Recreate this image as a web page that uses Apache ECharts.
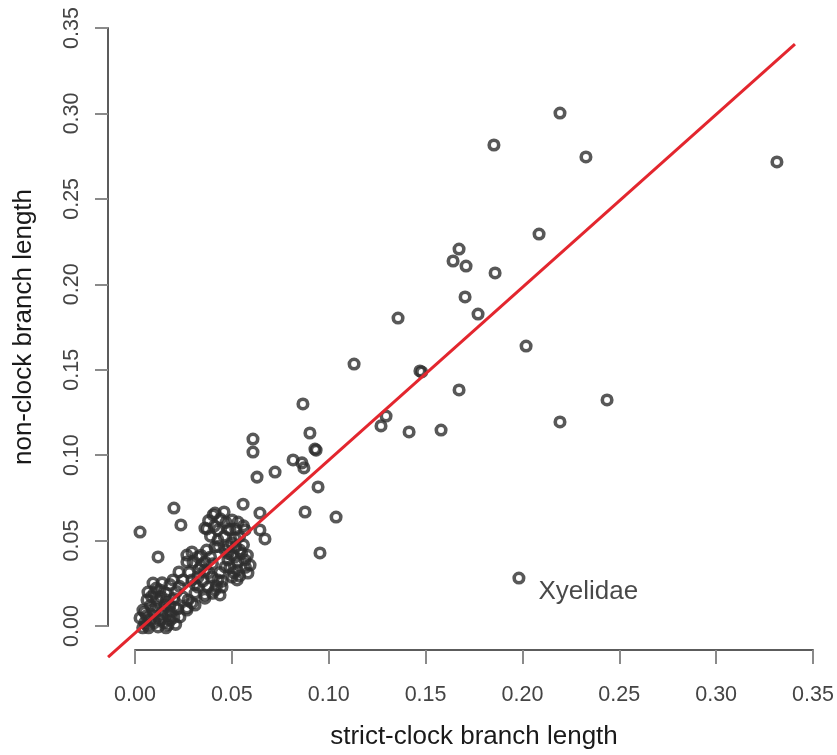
<!DOCTYPE html>
<html>
<head>
<meta charset="utf-8">
<title>Branch length comparison</title>
<script src="https://cdn.jsdelivr.net/npm/echarts@6/dist/echarts.min.js"></script>
<style>
  html, body { margin: 0; padding: 0; background: #ffffff; }
  #chart { width: 837px; height: 755px; }
</style>
</head>
<body>
<div id="chart"></div>
<script>
// Tick values shared by both axes
const tickValues = [0.00, 0.05, 0.10, 0.15, 0.20, 0.25, 0.30, 0.35];

// Branch lengths: [strict-clock, non-clock]
const sparseBranches = [
  [0.2194, 0.3008], [0.1853, 0.2823], [0.2328, 0.2754], [0.3314, 0.2725],
  [0.2086, 0.2308], [0.1673, 0.2221], [0.1642, 0.2152], [0.1709, 0.2123],
  [0.1859, 0.2083], [0.1704, 0.1944], [0.1771, 0.1845], [0.1358, 0.1822],
  [0.2019, 0.1660], [0.1131, 0.1556], [0.1471, 0.1516], [0.1480, 0.1510],
  [0.1673, 0.1406], [0.2437, 0.1348], [0.1296, 0.1255], [0.1270, 0.1198],
  [0.1415, 0.1163], [0.1580, 0.1174], [0.2194, 0.1221]
];

const midBranches = [
  [0.0609, 0.1122], [0.0609, 0.1047], [0.0867, 0.1325], [0.0903, 0.1157],
  [0.0929, 0.1064], [0.0935, 0.1058], [0.0816, 0.1001], [0.0872, 0.0955],
  [0.0862, 0.0984], [0.0630, 0.0902], [0.0723, 0.0931], [0.0945, 0.0845],
  [0.0878, 0.0700], [0.1038, 0.0671], [0.0645, 0.0694], [0.0671, 0.0544],
  [0.0955, 0.0463], [0.0558, 0.0745]
];

const denseBranches = [
  [0.0413, 0.0694], [0.0501, 0.0654], [0.0532, 0.0642], [0.0361, 0.0607],
  [0.0428, 0.0596], [0.0490, 0.0596], [0.0568, 0.0596], [0.0645, 0.0596],
  [0.0428, 0.0538], [0.0516, 0.0550], [0.0413, 0.0498], [0.0465, 0.0480],
  [0.0294, 0.0469], [0.0542, 0.0480], [0.0325, 0.0440], [0.0361, 0.0411],
  [0.0268, 0.0411], [0.0516, 0.0440], [0.0568, 0.0422], [0.0594, 0.0393],
  [0.0527, 0.0364], [0.0583, 0.0347], [0.0501, 0.0324], [0.0527, 0.0307],
  [0.0361, 0.0364], [0.0325, 0.0324], [0.0398, 0.0324], [0.0428, 0.0307],
  [0.0449, 0.0266], [0.0377, 0.0266], [0.0325, 0.0266], [0.0294, 0.0307],
  [0.0310, 0.0231], [0.0361, 0.0220], [0.0413, 0.0249], [0.0439, 0.0220],
  [0.0294, 0.0174], [0.0268, 0.0145], [0.0310, 0.0162], [0.0361, 0.0202],
  [0.0480, 0.0422], [0.0465, 0.0382],
  [0.0201, 0.0723], [0.0237, 0.0625], [0.0026, 0.0584], [0.0119, 0.0440],
  [0.0268, 0.0451], [0.0227, 0.0353], [0.0196, 0.0307], [0.0248, 0.0307],
  [0.0093, 0.0289], [0.0067, 0.0237], [0.0129, 0.0249], [0.0062, 0.0191],
  [0.0114, 0.0191], [0.0165, 0.0191], [0.0041, 0.0133], [0.0093, 0.0133],
  [0.0145, 0.0133], [0.0207, 0.0150], [0.0248, 0.0208], [0.0026, 0.0087],
  [0.0077, 0.0075], [0.0129, 0.0075], [0.0181, 0.0075], [0.0232, 0.0093],
  [0.0119, 0.0035], [0.0062, 0.0046], [0.0170, 0.0046], [0.0268, 0.0133],
  [0.0274, 0.0191], [0.0403, 0.0683], [0.0372, 0.0602],
  [0.0155, 0.0160], [0.0185, 0.0120], [0.0100, 0.0100], [0.0050, 0.0060],
  [0.0215, 0.0240], [0.0440, 0.0350], [0.0480, 0.0500], [0.0500, 0.0450],
  [0.0560, 0.0510], [0.0390, 0.0440], [0.0340, 0.0390], [0.0560, 0.0620],
  [0.0470, 0.0640], [0.0080, 0.0160], [0.0150, 0.0060], [0.0210, 0.0050],
  [0.0040, 0.0030],
  [0.0050, 0.0120], [0.0085, 0.0210], [0.0110, 0.0260], [0.0135, 0.0210],
  [0.0160, 0.0230], [0.0180, 0.0160], [0.0200, 0.0200], [0.0220, 0.0140],
  [0.0110, 0.0150], [0.0060, 0.0100], [0.0140, 0.0100], [0.0170, 0.0100],
  [0.0200, 0.0090], [0.0100, 0.0060], [0.0070, 0.0030], [0.0160, 0.0030],
  [0.0230, 0.0270], [0.0180, 0.0280], [0.0140, 0.0290], [0.0100, 0.0230],
  [0.0300, 0.0410], [0.0330, 0.0370], [0.0350, 0.0300], [0.0380, 0.0350],
  [0.0400, 0.0400], [0.0420, 0.0270], [0.0340, 0.0450], [0.0370, 0.0480],
  [0.0310, 0.0280], [0.0400, 0.0230], [0.0450, 0.0300], [0.0280, 0.0350],
  [0.0390, 0.0560], [0.0410, 0.0620], [0.0440, 0.0660], [0.0460, 0.0560],
  [0.0480, 0.0600], [0.0520, 0.0600], [0.0540, 0.0560], [0.0460, 0.0700],
  [0.0430, 0.0500], [0.0500, 0.0520], [0.0380, 0.0650], [0.0520, 0.0500],
  [0.0490, 0.0380], [0.0530, 0.0410], [0.0550, 0.0460], [0.0580, 0.0450],
  [0.0510, 0.0350], [0.0570, 0.0380], [0.0540, 0.0330], [0.0480, 0.0460]
];

// Labelled outlier
const labelledBranches = [
  { name: 'Xyelidae', value: [0.1982, 0.0318] }
];

// Reference line y = x, drawn between these strict-clock lengths
const identityRange = [-0.0139, 0.3407];

// Full plotting region (slightly wider than the tick range on both axes)
const plotRangeX = [-0.01394, 0.36241];
const plotRangeY = [-0.01388, 0.36387];

const allBranches = sparseBranches.concat(midBranches, denseBranches);
const identityLine = identityRange.map(v => [v, v]);

const fontFamily = '"Liberation Sans", Arial, Helvetica, sans-serif';
const axisLineStyle = { color: '#5c5c5c', width: 2 };
const tickStyle = { color: '#8a8a8a', width: 2 };
const hiddenAxis = {
  show: false, splitLine: { show: false }, axisLine: { show: false },
  axisTick: { show: false }, axisLabel: { show: false }
};

const chart = echarts.init(document.getElementById('chart'), null, { renderer: 'canvas' });

const pointStyle = {
  type: 'scatter',
  xAxisIndex: 0,
  yAxisIndex: 0,
  symbol: 'circle',
  symbolSize: 9.5,
  itemStyle: { color: 'rgba(255,255,255,0)', borderColor: '#2e2e2e', borderWidth: 3.6 },
  silent: true
};

chart.setOption({
  backgroundColor: '#ffffff',
  animation: false,
  grid: [
    // plotting region
    { left: 108, right: 0, top: 4, bottom: 98, containLabel: false },
    // axes drawn over the tick range only
    { left: 135, right: 24, top: 28, bottom: 122, containLabel: false }
  ],
  xAxis: [
    Object.assign({ type: 'value', gridIndex: 0, min: plotRangeX[0], max: plotRangeX[1] }, hiddenAxis),
    {
      type: 'value',
      gridIndex: 1,
      min: tickValues[0],
      max: tickValues[tickValues.length - 1],
      interval: 0.05,
      offset: 24,
      splitLine: { show: false },
      axisLine: { show: true, onZero: false, lineStyle: axisLineStyle },
      axisTick: { show: true, length: 14, lineStyle: tickStyle },
      axisLabel: {
        show: true, margin: 34, fontSize: 21.5, color: '#444444', fontFamily: fontFamily,
        showMinLabel: true, showMaxLabel: true,
        formatter: v => v.toFixed(2)
      },
      name: 'strict-clock branch length',
      nameLocation: 'middle',
      nameGap: 74,
      nameTextStyle: { fontSize: 26, color: '#1a1a1a', fontFamily: fontFamily }
    }
  ],
  yAxis: [
    Object.assign({ type: 'value', gridIndex: 0, min: plotRangeY[0], max: plotRangeY[1] }, hiddenAxis),
    {
      type: 'value',
      gridIndex: 1,
      min: tickValues[0],
      max: tickValues[tickValues.length - 1],
      interval: 0.05,
      offset: 27,
      splitLine: { show: false },
      axisLine: { show: true, onZero: false, lineStyle: axisLineStyle },
      axisTick: { show: true, length: 13, lineStyle: tickStyle },
      axisLabel: {
        show: true, margin: 25, rotate: 90, fontSize: 21.5, color: '#444444', fontFamily: fontFamily,
        showMinLabel: true, showMaxLabel: true,
        formatter: v => v.toFixed(2)
      },
      name: 'non-clock branch length',
      nameLocation: 'middle',
      nameRotate: 90,
      nameGap: 71,
      nameTextStyle: { fontSize: 26, color: '#1a1a1a', fontFamily: fontFamily }
    }
  ],
  series: [
    Object.assign({}, pointStyle, { name: 'branches', data: allBranches }),
    Object.assign({}, pointStyle, {
      name: 'labelled',
      data: labelledBranches,
      label: {
        show: true,
        position: 'right',
        distance: 5,
        offset: [8, 14],
        formatter: p => p.name,
        fontSize: 26,
        color: '#1a1a1a',
        fontFamily: fontFamily
      }
    }),
    {
      name: 'identity',
      type: 'line',
      xAxisIndex: 0,
      yAxisIndex: 0,
      data: identityLine,
      showSymbol: false,
      symbol: 'none',
      silent: true,
      z: 5,
      lineStyle: { color: '#e3262e', width: 3 }
    }
  ]
});
</script>
</body>
</html>
